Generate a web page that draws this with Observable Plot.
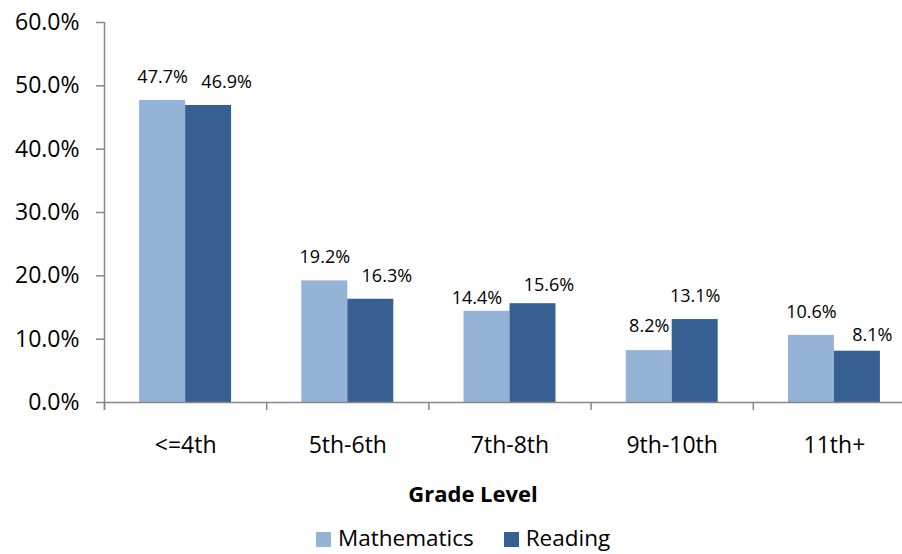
<!DOCTYPE html>
<html><head><meta charset="utf-8">
<script src="https://cdn.jsdelivr.net/npm/d3@7"></script>
<script src="https://cdn.jsdelivr.net/npm/@observablehq/plot@0.6"></script>
<style>
body{margin:0;background:#fff;font-family:"Open Sans",sans-serif;}
#wrap{position:relative;width:902px;height:554px;overflow:hidden;background:#fff;}
#wrap svg{display:block;overflow:hidden;}
#xlabel{position:absolute;left:373px;width:200px;top:479px;text-align:center;font-weight:bold;font-size:22px;line-height:28px;color:#000;}
#legend{position:absolute;left:316px;top:526px;font-size:22.5px;line-height:24px;height:24px;color:#000;display:flex;align-items:center;white-space:nowrap;}
#legend .sw{display:inline-block;width:15px;height:15px;margin-right:7px;margin-top:3px;}
#legend .item{display:flex;align-items:center;margin-right:30px;}
</style></head><body><div id="wrap"></div><script>
const categories = ["<=4th", "5th-6th", "7th-8th", "9th-10th", "11th+"];
const mathematics = [47.7, 19.2, 14.4, 8.2, 10.6];
const reading = [46.9, 16.3, 15.6, 13.1, 8.1];
const seriesNames = ["Mathematics", "Reading"];
const seriesColors = ["#95B3D7", "#376092"];
const yTicks = [0, 10, 20, 30, 40, 50, 60];

// label nudges (pixels), mimicking the original's label placement
const mathLabelDx = [0, 0, -10, 0, 0];
const mathLabelDy = [-23, -24, -13, -24, -23];
const readLabelDx = [18, 16, 16, 0, 15];
const readLabelDy = [-23, -23, -18, -23, -16];

const mathRows = categories.map((c, i) => ({grade: c, value: mathematics[i], i}));
const readRows = categories.map((c, i) => ({grade: c, value: reading[i], i}));

const W = 902, H = 465;
const left = 104, right = 915;
const step = (right - left) / categories.length;
const half = step / 2;
const grey = "#868686";
const fmt = v => v.toFixed(1) + "%";

const textMarks = (rows, color, dxs, dys) => rows.map(r =>
  Plot.text([r], {x: "grade", y: "value", text: d => fmt(d.value), dx: dxs[r.i] + (color === 0 ? -23 : 23), dy: dys[r.i], fontSize: 18, fill: "#000"})
);

const chart = Plot.plot({
  width: W,
  height: H,
  marginLeft: left,
  marginRight: W - right,
  marginTop: 22,
  marginBottom: H - 402,
  style: {fontFamily: "'Open Sans', sans-serif", background: "#fff", overflow: "hidden"},
  x: {domain: categories, paddingInner: 0, paddingOuter: 0, round: false, label: null},
  y: {domain: [0, 60], label: null},
  marks: [
    Plot.barY(mathRows, {x: "grade", y: "value", fill: seriesColors[0], insetLeft: half - 46, insetRight: half})
    ,Plot.barY(readRows, {x: "grade", y: "value", fill: seriesColors[1], insetLeft: half, insetRight: half - 46})
    ,...textMarks(mathRows, 0, mathLabelDx, mathLabelDy)
    ,...textMarks(readRows, 1, readLabelDx, readLabelDy)
    ,Plot.ruleY([0], {stroke: grey, strokeWidth: 1.5})
    ,Plot.ruleX([categories[0]], {x: d => d, dx: -half, y1: 60, y2: 0, insetBottom: -8, stroke: grey, strokeWidth: 1.5})
    ,Plot.ruleX(categories, {x: d => d, dx: -half, y1: 0, y2: 0, insetBottom: -8, stroke: grey, strokeWidth: 1.5})
    ,Plot.axisY(yTicks, {anchor: "left", tickFormat: fmt, tickSize: 8, tickPadding: 17, fontSize: 23, stroke: grey, strokeWidth: 1.5, color: "#000", label: null})
    ,Plot.axisX({anchor: "bottom", tickSize: 0, tickPadding: 34, fontSize: 23, color: "#000", label: null})
  ]
});

const wrap = document.getElementById("wrap");
wrap.appendChild(chart);

const xl = document.createElement("div");
xl.id = "xlabel";
xl.textContent = "Grade Level";
wrap.appendChild(xl);

const lg = document.createElement("div");
lg.id = "legend";
seriesNames.forEach((n, k) => {
  const it = document.createElement("span");
  it.className = "item";
  const sw = document.createElement("span");
  sw.className = "sw";
  sw.style.background = seriesColors[k];
  it.appendChild(sw);
  it.appendChild(document.createTextNode(n));
  lg.appendChild(it);
});
wrap.appendChild(lg);
</script></body></html>
